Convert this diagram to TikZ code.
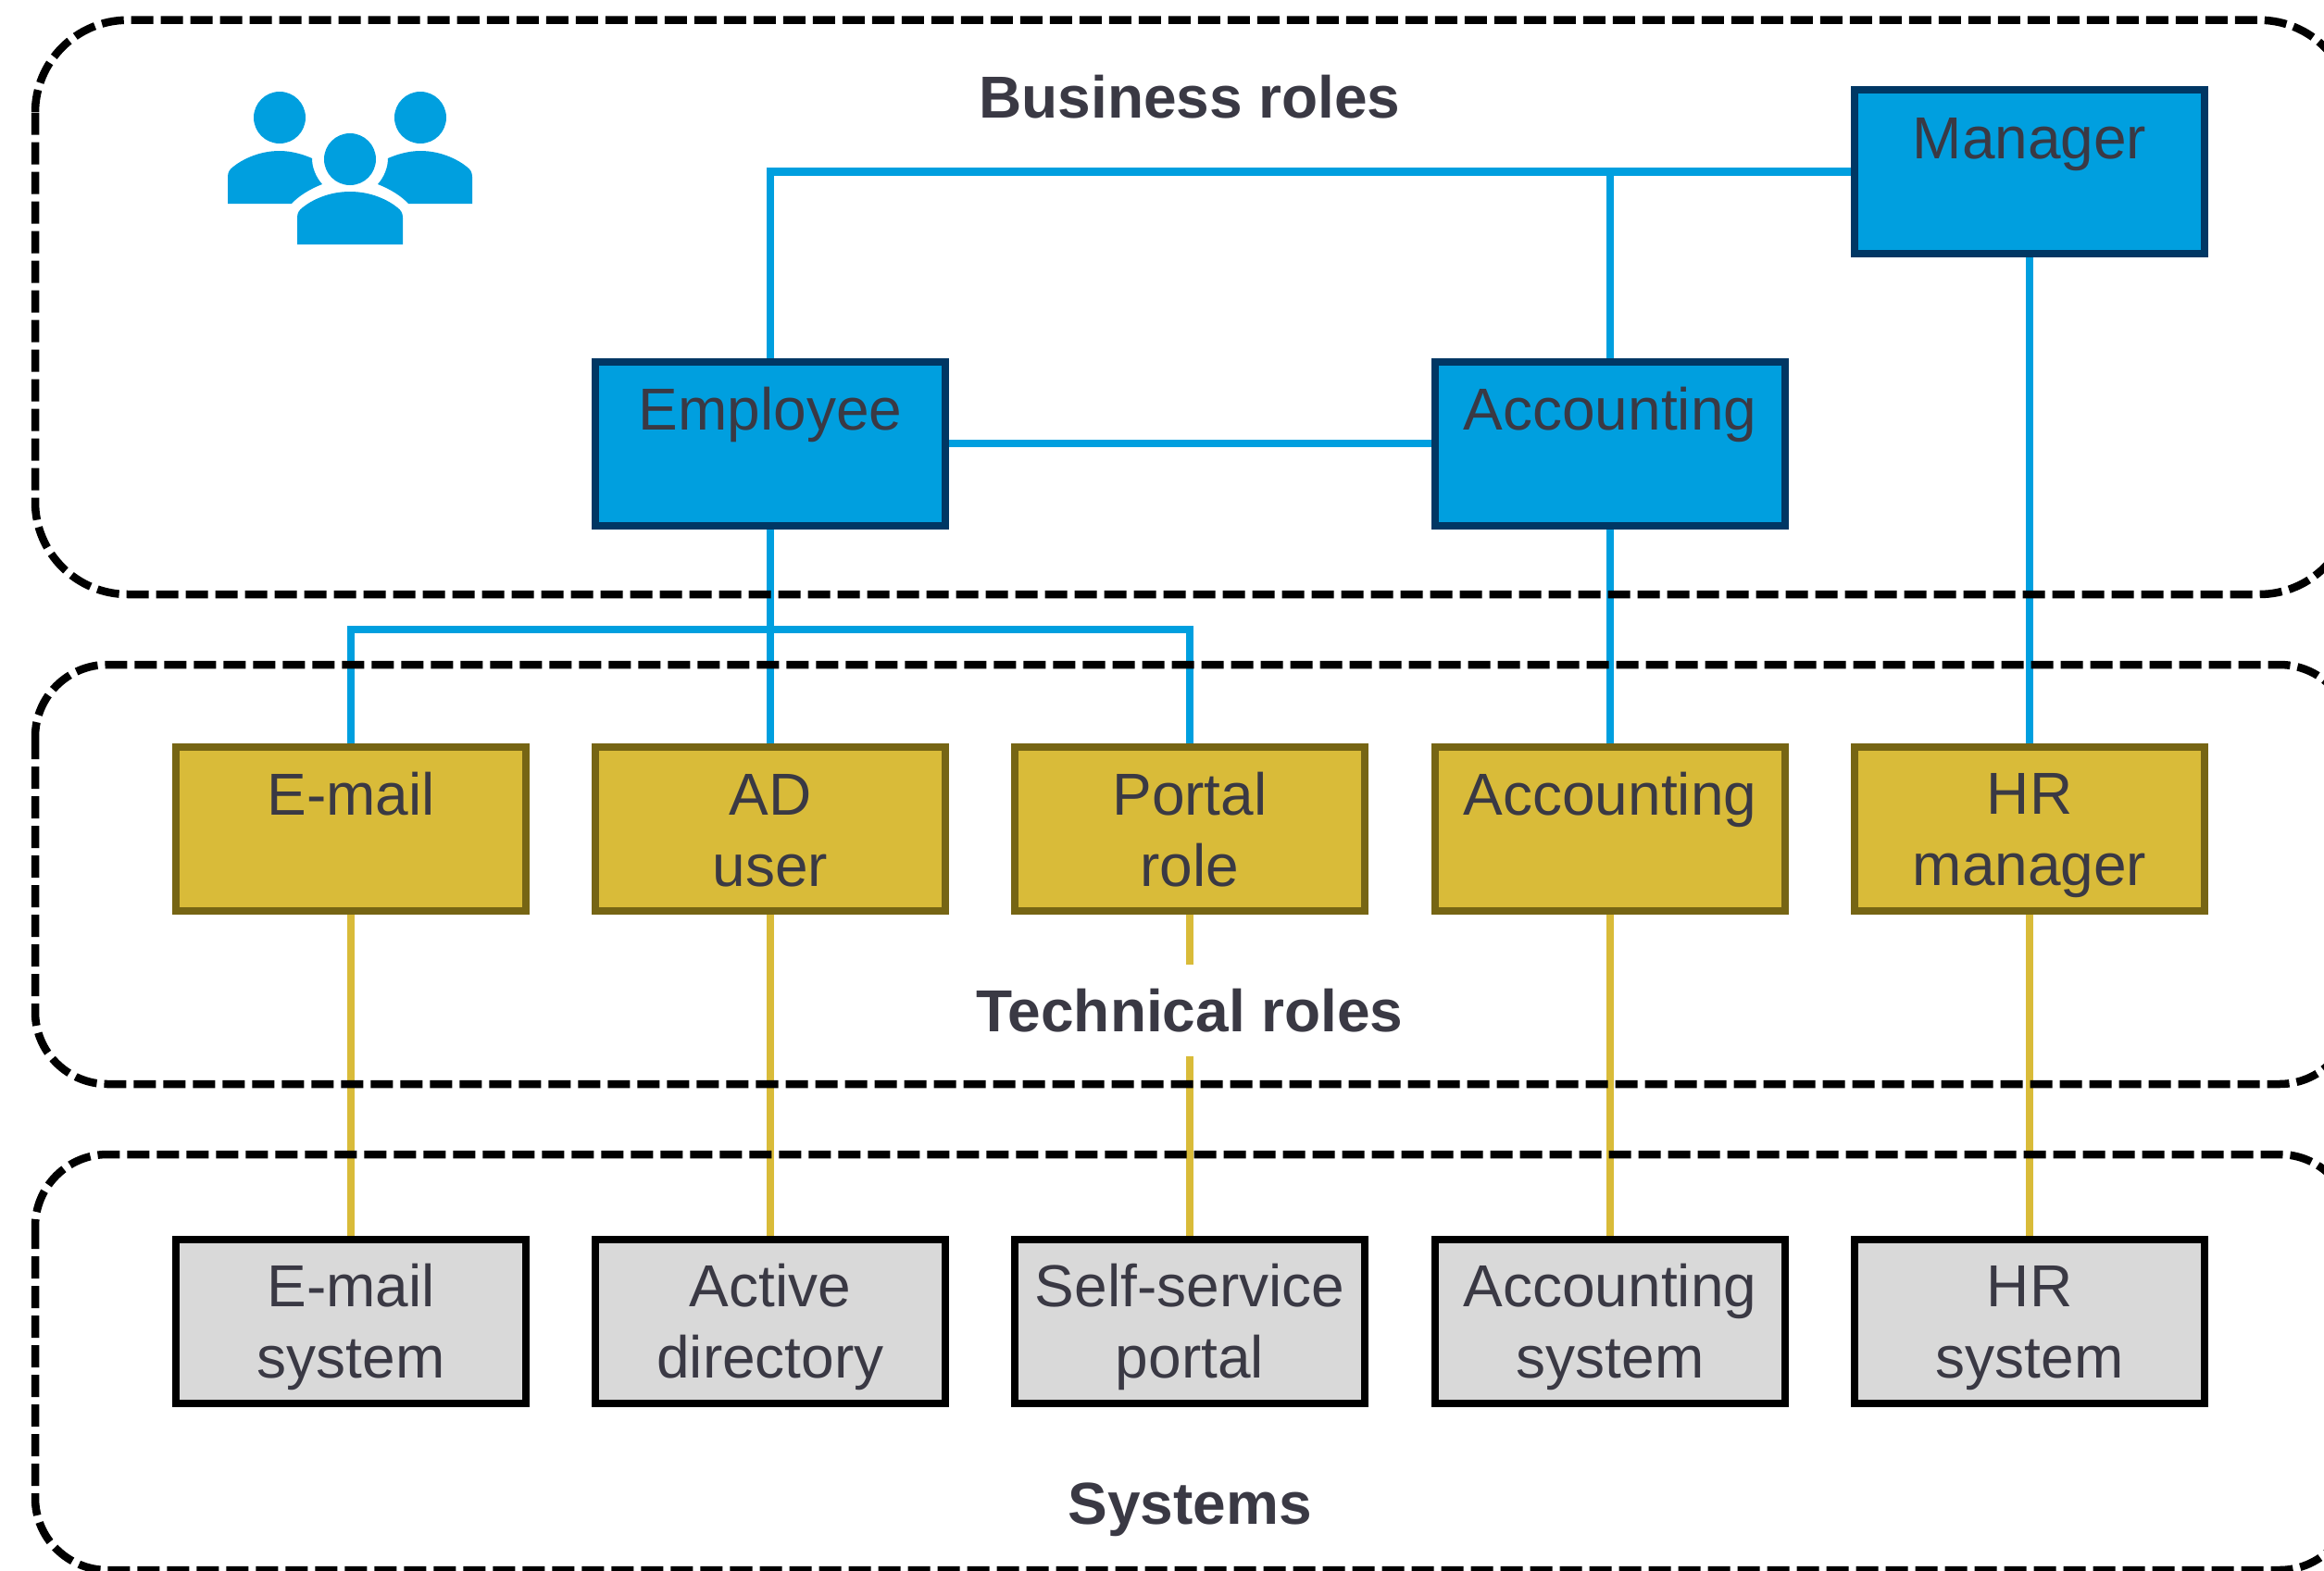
\documentclass[tikz,border=0pt]{standalone}
\usepackage{fontspec}
\setmainfont{Liberation Sans}
\usepackage{tikz}

\definecolor{bizblue}{HTML}{009FDF}
\definecolor{bizedge}{HTML}{003764}
\definecolor{techgold}{HTML}{D9BB39}
\definecolor{techedge}{HTML}{766514}
\definecolor{sysgray}{HTML}{D9D9D9}
\definecolor{inktext}{HTML}{3A3944}

\newcommand{\tline}{\rule[-3.47pt]{0pt}{20.54pt}}

\tikzset{
	rolebox/.style={draw, line width=0.08cm, minimum width=3.78cm, minimum height=1.77cm, inner sep=0pt, align=center, text=inktext, font=\fontsize{18.21}{21.85}\selectfont},
	bizbox/.style={rolebox, fill=bizblue, draw=bizedge},
	techbox/.style={rolebox, fill=techgold, draw=techedge},
	sysbox/.style={rolebox, fill=sysgray, draw=black},
	bizlink/.style={draw=bizblue, line width=0.085cm},
	techlink/.style={draw=techgold, line width=0.085cm},
	region/.style={draw=black, line width=0.085cm, dash pattern=on 0.24cm off 0.08cm},
	regionlabel/.style={text=inktext, font=\fontsize{18.21}{21.85}\selectfont\bfseries, text height=0.46cm, text depth=0pt, inner xsep=0.1cm, inner ysep=0.265cm},
	peoplepart/.style={fill=bizblue, draw=none}
}

\begin{document}
\begin{tikzpicture}
	\useasboundingbox (0,0) rectangle (25.1,-16.97);

	% business roles
	\node[bizbox] (manager) at (21.92,-1.855) {\tline Manager\\\tline};
	\node[bizbox] (employee) at (8.32,-4.79) {\tline Employee\\\tline};
	\node[bizbox] (accbiz) at (17.39,-4.79) {\tline Accounting\\\tline};

	% technical roles
	\node[techbox] (email) at (3.79,-8.95) {\tline E-mail\\\tline};
	\node[techbox] (aduser) at (8.32,-8.95) {\tline AD\\\tline user};
	\node[techbox] (portal) at (12.85,-8.95) {\tline Portal\\\tline role};
	\node[techbox] (acctech) at (17.39,-8.95) {\tline Accounting\\\tline};
	\node[techbox] (hrman) at (21.92,-8.95) {\tline HR\\\tline manager};

	% systems
	\node[sysbox] (mailsys) at (3.79,-14.27) {\tline E-mail\\\tline system};
	\node[sysbox] (adsys) at (8.32,-14.27) {\tline Active\\\tline directory};
	\node[sysbox] (portalsys) at (12.85,-14.27) {\tline Self-service\\\tline portal};
	\node[sysbox] (accsys) at (17.39,-14.27) {\tline Accounting\\\tline system};
	\node[sysbox] (hrsys) at (21.92,-14.27) {\tline HR\\\tline system};

	\coordinate (fork) at (8.32,-6.8);

	\draw[bizlink] (manager.west) -| (employee.north);
	\draw[bizlink] (accbiz.north) -- (accbiz.north |- manager.west);
	\draw[bizlink] (employee.east) -- (accbiz.west);
	\draw[bizlink] (employee.south) -- (aduser.north);
	\draw[bizlink] (email.north) |- (fork) -| (portal.north);
	\draw[bizlink] (accbiz.south) -- (acctech.north);
	\draw[bizlink] (manager.south) -- (hrman.north);

	\draw[techlink] (email.south) -- (mailsys.north);
	\draw[techlink] (aduser.south) -- (adsys.north);
	\draw[techlink] (portal.south) -- (portalsys.north);
	\draw[techlink] (acctech.south) -- (accsys.north);
	\draw[techlink] (hrman.south) -- (hrsys.north);

	\node[regionlabel] (bizlabel) at (12.85,-1.04) {Business roles};
	\node[regionlabel, fill=white] (techlabel) at (12.85,-10.91) {Technical roles};
	\node[regionlabel] (syslabel) at (12.85,-16.23) {Systems};

	\draw[region, rounded corners=1cm] (0.38,-0.217) rectangle (25.4,-6.42);
	\draw[region, rounded corners=0.78cm] (0.38,-7.18) rectangle (25.4,-11.71);
	\draw[region, rounded corners=0.78cm] (0.38,-12.47) rectangle (25.4,-16.96);

	% people icon
	\fill[peoplepart] (3.02,-1.27) circle (0.28);
	\fill[peoplepart] (4.54,-1.27) circle (0.28);
	\fill[peoplepart] (3.78,-1.72) circle (0.28);
	\fill[peoplepart] (2.46,-2.2) -- (2.46,-1.91)
		.. controls (2.46,-1.86) and (2.48,-1.83) .. (2.52,-1.8)
		.. controls (2.62,-1.72) and (2.8,-1.63) .. (3.02,-1.63)
		.. controls (3.15,-1.63) and (3.28,-1.67) .. (3.37,-1.71)
		.. controls (3.37,-1.81) and (3.41,-1.91) .. (3.48,-1.99)
		.. controls (3.35,-2.04) and (3.22,-2.12) .. (3.15,-2.2) -- cycle;
	\fill[peoplepart] (5.1,-2.2) -- (5.1,-1.91)
		.. controls (5.1,-1.86) and (5.08,-1.83) .. (5.04,-1.8)
		.. controls (4.94,-1.72) and (4.76,-1.63) .. (4.54,-1.63)
		.. controls (4.41,-1.63) and (4.28,-1.67) .. (4.19,-1.71)
		.. controls (4.19,-1.81) and (4.15,-1.91) .. (4.08,-1.99)
		.. controls (4.21,-2.04) and (4.34,-2.12) .. (4.41,-2.2) -- cycle;
	\fill[peoplepart] (3.21,-2.64) -- (3.21,-2.35)
		.. controls (3.21,-2.3) and (3.23,-2.27) .. (3.27,-2.24)
		.. controls (3.37,-2.16) and (3.55,-2.07) .. (3.78,-2.07)
		.. controls (4.01,-2.07) and (4.19,-2.16) .. (4.29,-2.24)
		.. controls (4.33,-2.27) and (4.35,-2.3) .. (4.35,-2.35)
		-- (4.35,-2.64) -- cycle;
\end{tikzpicture}
\end{document}
